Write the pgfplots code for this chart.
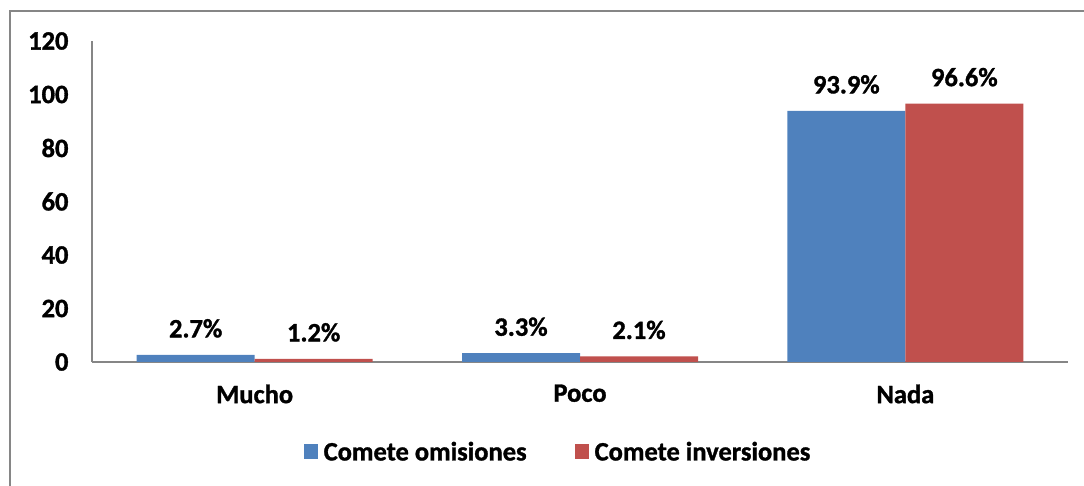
\documentclass[border=0pt]{standalone}
\usepackage{fontspec}
\setmainfont{Carlito}[BoldFeatures={FakeBold=1.2}]
\usepackage{pgfplots}
\pgfplotsset{compat=1.18}
\definecolor{cblue}{HTML}{4F81BD}
\definecolor{cred}{HTML}{C0504D}
\definecolor{axgray}{HTML}{868686}
\newcommand{\cf}{\fontsize{26.5}{31}\selectfont\bfseries}
\begin{document}
\begin{tikzpicture}[x=1pt,y=1pt]
\useasboundingbox (0,0) rectangle (1084,486);
\draw[axgray,line width=1.5pt] (10,-20) rectangle (1110,475);
\begin{axis}[
  at={(92pt,124pt)}, anchor=south west,
  scale only axis, width=976pt, height=321pt,
  ybar=0pt, bar width=118pt,
  xmin=-0.5, xmax=2.5, ymin=0, ymax=120,
  xtick={0,1,2}, xticklabels={Mucho,Poco,Nada},
  ytick={0,20,40,60,80,100,120},
  major tick length=0pt,
  axis lines=left,
  axis line style={-, draw=axgray, line width=1.2pt},
  /pgf/number format/assume math mode=true,
  tick label style={font=\cf, text=black},
  yticklabel style={xshift=-20pt},
  xticklabel style={yshift=-19pt},
  nodes near coords={\pgfmathprintnumber[fixed,precision=1,zerofill]{\pgfplotspointmeta}\%},
  every node near coord/.append style={font=\cf, anchor=south, inner sep=0pt, yshift=17pt},
  legend style={at={(0.4775,-0.28)}, anchor=center, draw=none, font=\cf,
    legend columns=-1,
    /tikz/every even column/.append style={column sep=46pt}},
  legend image code/.code={\fill[#1] (0pt,-7pt) rectangle (14pt,7.5pt); \path (18pt,0pt);},
]
\addplot[fill=cblue, draw=none] coordinates {(0,2.7) (1,3.3) (2,93.9)};
\addplot[fill=cred, draw=none] coordinates {(0,1.2) (1,2.1) (2,96.6)};
\legend{Comete omisiones, Comete inversiones}
\end{axis}
\end{tikzpicture}
\end{document}
